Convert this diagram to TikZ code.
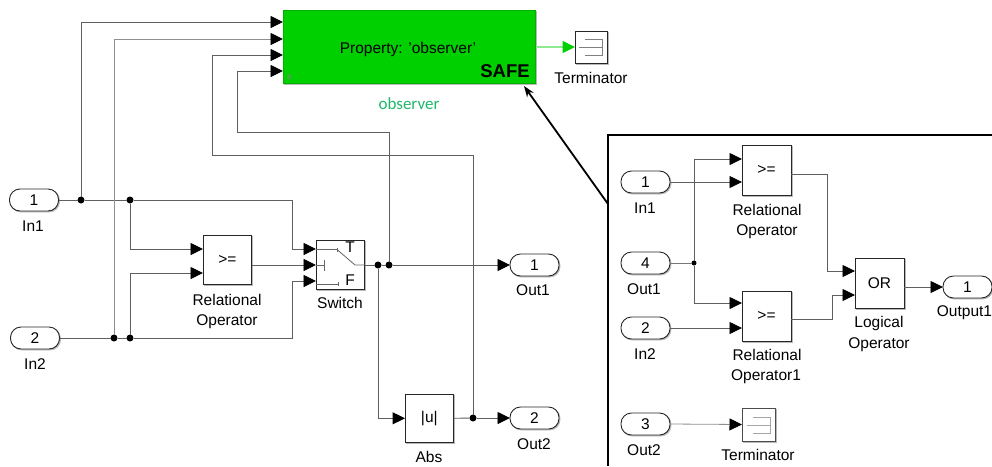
\documentclass[tikz,border=0pt]{standalone}
\usepackage{fontspec}
\setmainfont{Liberation Sans}
\newfontfamily\calibrilike{Carlito}
\usetikzlibrary{arrows.meta,shadows}
\definecolor{wirec}{HTML}{5F5F5F}
\definecolor{safegreen}{HTML}{00D000}
\definecolor{obstext}{HTML}{1FB86A}
\definecolor{paleg}{HTML}{90E890}
\tikzset{
  x=1pt,y=-1pt,
  lbl/.style={font=\fontsize{15.5}{16}\selectfont,inner sep=0pt,align=center},
  numtxt/.style={font=\fontsize{15.5}{16}\selectfont},
  shadowed/.style={copy shadow={shadow xshift=1pt,shadow yshift=-1pt,draw=gray!55,fill=gray!55}},
  pill/.style={shadowed,draw=black!85,fill=white,line width=0.9pt,rounded corners=10.5pt,minimum width=49pt,minimum height=22pt,inner sep=0pt,outer sep=0pt,numtxt},
  blockbox/.style={shadowed,draw=black!85,fill=white,line width=0.9pt,inner sep=0pt,outer sep=0pt,numtxt},
  wire/.style={draw=wirec,line width=0.9pt},
  feed/.style={wire,-{Triangle[length=12.5pt,width=12pt,color=black]}},
  dotm/.style={circle,fill=black,inner sep=0pt,minimum size=7pt,outer sep=0pt},
  dots/.style={circle,fill=black,inner sep=0pt,minimum size=5pt,outer sep=0pt},
  termline/.style={draw=gray,line width=0.7pt},
  swline/.style={draw=black!60,line width=0.8pt},
}
\begin{document}
\begin{tikzpicture}
\clip (0,0) rectangle (992,466);
\fill[white] (0,0) rectangle (992,466);

% --- main model blocks
\node[pill] (in1) at (34,200) {1};
\node[pill] (in2) at (35,338) {2};
\node[lbl] (in1l) at (33,226) {In1};
\node[lbl] (in2l) at (35,364) {In2};
\node[blockbox,fill=safegreen,draw=safegreen!85!black,minimum width=252.5pt,minimum height=73pt] (obs) at (409.3,46.5) {};
\node[lbl,text=black] (prop) at (408,49) {Property: 'observer'};
\node[inner sep=0pt,font=\fontsize{18.5}{19}\selectfont\bfseries] (safe) at (505,71) {SAFE};
\node[inner sep=0pt,font=\calibrilike\fontsize{17}{18}\selectfont,text=obstext] (obsl) at (409,103.5) {observer};
\fill[green!55!black!75] (287.5,74) -- (290.5,74) -- (290.5,77) -- (292,77) -- (289,80) -- (286,77) -- (287.5,77) -- cycle;

\node[blockbox,minimum width=32pt,minimum height=32pt] (term) at (591,47) {};
\node[lbl] (terml) at (591,77.5) {Terminator};
\draw[termline] (585,39) -- (602,39) -- (602,55) -- (585,55);
\draw[termline] (579,47) -- (602,47);

\node[blockbox,minimum width=48.5pt,minimum height=49.5pt] (rel) at (227.3,260) {>=};
\node[lbl] (rell) at (227,300) {Relational};
\node[lbl] (rell2) at (227,321.5) {Operator};
\node[blockbox,minimum width=48.5pt,minimum height=49pt] (sw) at (340.5,264.5) {};
\node[lbl] (swl) at (340,303) {Switch};
\node[numtxt,inner sep=0pt] (swT) at (350,247) {T};
\node[numtxt,inner sep=0pt] (swF) at (350,280) {F};
\draw[swline] (316,249.5) -- (337,249.5) -- (355,265) -- (365,265);
\draw[swline] (337,247.5) -- (337,251.5);
\draw[swline] (316,265) -- (324,265);
\draw[swline] (324,259.5) -- (324,270.5);
\draw[swline] (316,284) -- (338,284);
\draw[swline] (338,282) -- (338,286);
\node[blockbox,minimum width=48.5pt,minimum height=48.5pt] (abs) at (429.3,418.3) {|u|};
\node[lbl] (absl) at (429,457) {Abs};
\node[pill] (out1) at (534.5,265) {1};
\node[pill] (out2) at (534.5,418) {2};
\node[lbl] (out1l) at (533,290) {Out1};
\node[lbl] (out2l) at (534,444) {Out2};

% --- main model junctions and ports
\node[dotm] (j1) at (81,200) {};
\node[dotm] (j2) at (130,200) {};
\node[dotm] (j3) at (114,338) {};
\node[dotm] (j4) at (130,338) {};
\node[dotm] (j5) at (378,265) {};
\node[dotm] (j6) at (389,265) {};
\node[dotm] (j7) at (473,418) {};
\coordinate (obsa) at (283,22);
\coordinate (obsb) at (283,39);
\coordinate (obsc) at (283,55);
\coordinate (obsd) at (283,71);
\coordinate (obso) at (536,47);
\coordinate (rela) at (203,249);
\coordinate (relb) at (203,273);
\coordinate (relo) at (251.5,265);
\coordinate (swa) at (316,249);
\coordinate (swb) at (316,265);
\coordinate (swc) at (316,281);
\coordinate (swo) at (365,265);

% --- main model wires
\draw[wire] (in1.east) -- (j1);
\draw[wire] (j1) -- (j2);
\draw[wire] (in2.east) -- (j3);
\draw[wire] (j3) -- (j4);
\draw[wire] (swo) -- (j5);
\draw[wire] (j5) -- (j6);
\draw[feed] (j1) |- (obsa);
\draw[feed,draw=wirec!70] (j3) |- (obsb);
\draw[feed] (j7) -- (473,155) -- (212,155) -- (212,55) -- (obsc);
\draw[feed] (j6) -- (389,132) -- (237,132) -- (237,71) -- (obsd);
\draw[feed] (j2) |- (rela);
\draw[feed] (j4) |- (relb);
\draw[feed] (j2) -- (292,200) -- (292,249) -- (swa);
\draw[feed] (relo) -- (swb);
\draw[feed] (j4) -- (292,338) -- (292,281) -- (swc);
\draw[feed] (j6) -- (out1.west);
\draw[feed] (j5) |- (abs.west);
\draw[wire] (abs.east) -- (j7);
\draw[feed] (j7) -- (out2.west);
\draw[line width=1.1pt,draw=paleg,-{Triangle[length=12.5pt,width=12pt,color=safegreen]}] (obso) -- (term.west);

% --- inset
\coordinate (insetcorner) at (608,135);
\coordinate (insettip) at (524,86);
\coordinate (insetstart) at (608,204);
\fill[white] (608,135) rectangle (992,466);
\draw[black,line width=1.8pt,-{Stealth[length=11pt,width=8pt]}] (insetstart) -- (insettip);
\draw[black,line width=2.2pt] (608,466) -- (insetcorner) -- (992,135);

\node[pill] (iin1) at (645.5,182) {1};
\node[pill] (iout1) at (645.5,263) {4};
\node[pill] (iin2) at (645.5,328) {2};
\node[pill] (iout2) at (645.5,424) {3};
\node[lbl] (iin1l) at (645,208) {In1};
\node[lbl] (iout1l) at (644,289) {Out1};
\node[lbl] (iin2l) at (645,354) {In2};
\node[lbl] (iout2l) at (644,450) {Out2};
\node[blockbox,minimum width=49pt,minimum height=50pt] (ir1) at (766.5,170) {>=};
\node[lbl] (ir1l) at (767,210) {Relational};
\node[lbl] (ir1l2) at (767,231.5) {Operator};
\node[blockbox,minimum width=49pt,minimum height=50pt] (ir2) at (766.5,316) {>=};
\node[lbl] (ir2l) at (767,355) {Relational};
\node[lbl] (ir2l2) at (766,376.5) {Operator1};
\node[blockbox,minimum width=49pt,minimum height=50pt] (ior) at (879.5,283) {OR};
\node[lbl] (iorl) at (879,323) {Logical};
\node[lbl] (iorl2) at (879,344.5) {Operator};
\node[pill] (iout) at (967.5,287) {1};
\node[lbl] (ioutl) at (964.5,313) {Output1};
\node[blockbox,draw=black!70,minimum width=33pt,minimum height=33pt] (iterm) at (758.5,424.5) {};
\node[lbl] (iterml) at (758,455) {Terminator};
\draw[termline,draw=gray!70] (753,417) -- (770,417) -- (770,433) -- (753,433);
\draw[termline,draw=gray!70] (747,425) -- (770,425);

\node[dots] (ij) at (694,263) {};
\coordinate (ir1a) at (742,159);
\coordinate (ir1b) at (742,182);
\coordinate (ir1o) at (791,174);
\coordinate (ir2a) at (742,303);
\coordinate (ir2b) at (742,328);
\coordinate (ir2o) at (791,319);
\coordinate (iora) at (855,271);
\coordinate (iorb) at (855,295);
\coordinate (ioro) at (904,287);

\draw[wire,draw=wirec!85,line width=0.8pt] (iout1.east) -- (ij);
\draw[feed,line width=0.8pt] (ij) |- (ir1a);
\draw[feed,line width=0.8pt] (ij) |- (ir2a);
\draw[feed,line width=0.8pt] (iin1.east) -- (ir1b);
\draw[feed,line width=0.8pt] (iin2.east) -- (ir2b);
\draw[feed,line width=0.8pt] (ir1o) -- (827,174) -- (827,271) -- (iora);
\draw[feed,line width=0.8pt] (ir2o) -- (832,319) -- (832,295) -- (iorb);
\draw[feed,line width=0.8pt] (ioro) -- (iout.west);
\draw[feed,line width=0.8pt,draw=wirec!70] (iout2.east) -- (iterm.west);
\end{tikzpicture}
\end{document}
